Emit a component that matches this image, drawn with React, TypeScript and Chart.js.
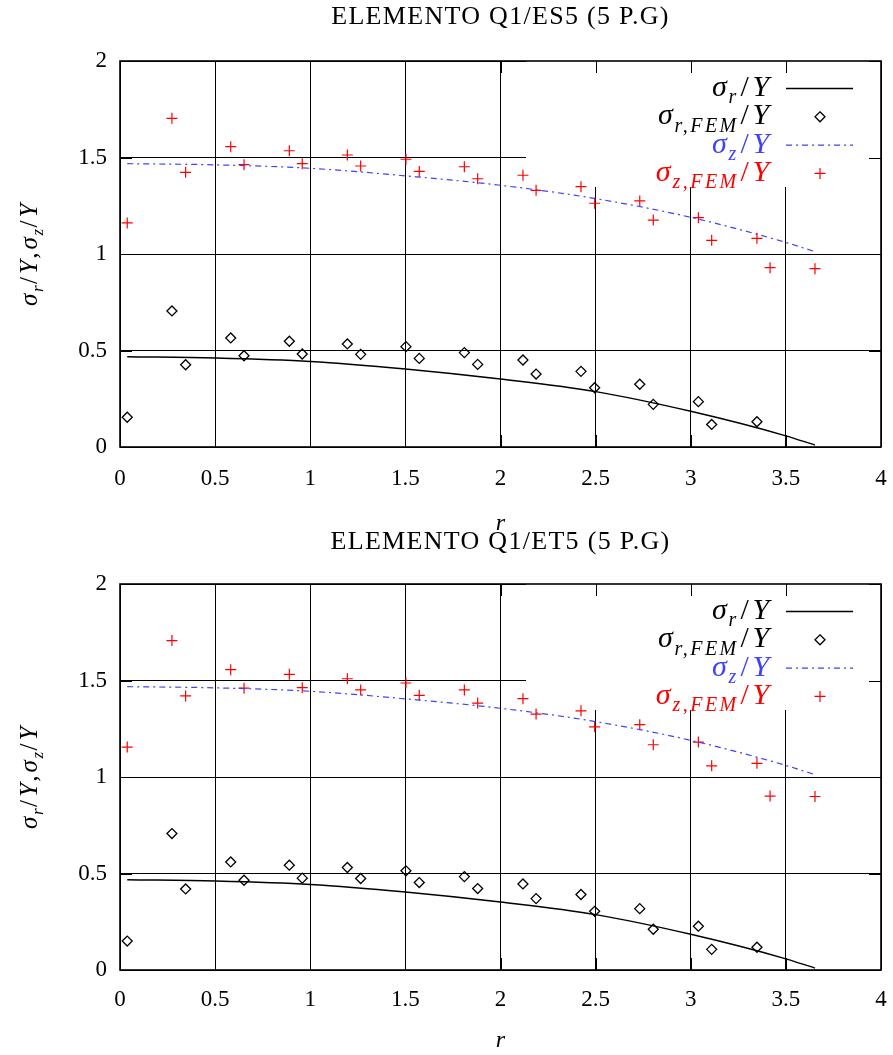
import React, { useEffect, useRef } from 'react';
import { Chart, registerables } from 'chart.js';

Chart.register(...registerables);

const FONT = "'Liberation Serif', 'Times New Roman', serif";

const X_TICKS = [0, 0.5, 1, 1.5, 2, 2.5, 3, 3.5, 4];
const Y_TICKS = [0, 0.5, 1, 1.5, 2];

const R_AN = [0.038, 0.5, 1.0, 1.5, 2.0, 2.5, 3.0, 3.5, 3.653];
const SR_AN = [0.468, 0.461, 0.443, 0.404, 0.352, 0.287, 0.185, 0.058, 0.01];
const SZ_AN = [1.468, 1.462, 1.444, 1.405, 1.356, 1.287, 1.19, 1.06, 1.012];

const R_FEM = [
  0.038, 0.273, 0.345, 0.582, 0.652, 0.89, 0.958, 1.195, 1.265, 1.503, 1.573, 1.81,
  1.88, 2.118, 2.187, 2.423, 2.495, 2.732, 2.803, 3.04, 3.11, 3.348, 3.417, 3.653,
];

const TOP_SR_FEM = [
  0.154, 0.705, 0.426, 0.565, 0.473, 0.548, 0.482, 0.534, 0.48, 0.52, 0.459, 0.489,
  0.428, 0.451, 0.378, 0.392, 0.307, 0.325, 0.221, 0.235, 0.117, 0.131,
];
const TOP_SZ_FEM = [
  1.161, 1.703, 1.423, 1.556, 1.463, 1.535, 1.468, 1.513, 1.456, 1.491, 1.428, 1.452,
  1.39, 1.408, 1.33, 1.349, 1.263, 1.275, 1.176, 1.188, 1.071, 1.081, 0.929, 0.924,
];
const BOT_SR_FEM = [
  0.15, 0.707, 0.42, 0.56, 0.465, 0.543, 0.476, 0.531, 0.474, 0.514, 0.453, 0.484,
  0.422, 0.446, 0.37, 0.391, 0.304, 0.318, 0.211, 0.227, 0.107, 0.118,
];
const BOT_SZ_FEM = [
  1.155, 1.707, 1.42, 1.556, 1.46, 1.532, 1.463, 1.509, 1.451, 1.487, 1.423, 1.451,
  1.383, 1.406, 1.326, 1.343, 1.26, 1.271, 1.167, 1.181, 1.058, 1.071, 0.901, 0.899,
];

const TITLES = ['ELEMENTO Q1/ES5 (5 P.G)', 'ELEMENTO Q1/ET5 (5 P.G)'];
const X_TITLE = 'r';

// segment kinds: 0 italic main, 1 italic subscript, 2 upright main
type Seg = [string, number];
const Y_LABEL: Seg[] = [
  ['σ', 0], ['r', 1], ['/', 2], ['Y', 0], [',', 2], ['σ', 0], ['z', 1], ['/', 2], ['Y', 0],
];
const LEGEND_LABELS: Seg[][] = [
  [['σ', 0], ['r', 1], ['/', 2], ['Y', 0]],
  [['σ', 0], ['r,FEM', 1], ['/', 2], ['Y', 0]],
  [['σ', 0], ['z', 1], ['/', 2], ['Y', 0]],
  [['σ', 0], ['z,FEM', 1], ['/', 2], ['Y', 0]],
];

const BLACK = '#000000';
const BLUE = '#4040ff';
const RED = '#ff0000';
const LEGEND_COLORS = [BLACK, BLACK, BLUE, RED];
const LEGEND_KINDS = ['line', 'diamond', 'dashdot', 'plus'];

function segFont(k: number, main: number, sub: number) {
  const size = k === 1 ? sub : main;
  const style = k === 0 || k === 1 ? 'italic ' : '';
  return `${style}${size}px ${FONT}`;
}

function segGap(k: number, main: number) {
  return k === 2 ? main * 0.12 : main * 0.06;
}

function segsWidth(ctx: CanvasRenderingContext2D, segs: Seg[], main: number, sub: number, sp: number) {
  let w = 0;
  for (const [t, k] of segs) {
    ctx.font = segFont(k, main, sub);
    (ctx as any).letterSpacing = k === 1 ? `${sp}px` : '0px';
    w += ctx.measureText(t).width + segGap(k, main);
  }
  (ctx as any).letterSpacing = '0px';
  return w;
}

function drawSegs(
  ctx: CanvasRenderingContext2D,
  segs: Seg[],
  x: number,
  baseline: number,
  main: number,
  sub: number,
  sp: number,
  color: string
) {
  ctx.fillStyle = color;
  ctx.textAlign = 'left';
  ctx.textBaseline = 'alphabetic';
  let cx = x;
  for (const [t, k] of segs) {
    ctx.font = segFont(k, main, sub);
    (ctx as any).letterSpacing = k === 1 ? `${sp}px` : '0px';
    const dy = k === 1 ? main * 0.24 : 0;
    ctx.fillText(t, cx, baseline + dy);
    cx += ctx.measureText(t).width + segGap(k, main);
  }
  (ctx as any).letterSpacing = '0px';
}

const framePlugin = {
  id: 'gnuframe',
  beforeDatasetsDraw(chart: any, _args: any, opts: any) {
    const { ctx, chartArea: a, scales } = chart;
    const xs = scales.x;
    const ys = scales.y;
    ctx.save();
    // title centred over the plot
    ctx.fillStyle = BLACK;
    ctx.font = `26px ${FONT}`;
    (ctx as any).letterSpacing = '1.3px';
    ctx.textAlign = 'center';
    ctx.textBaseline = 'middle';
    ctx.fillText(opts.title, (a.left + a.right) / 2, opts.titleY);
    (ctx as any).letterSpacing = '0px';
    // legend box (opaque)
    ctx.fillStyle = '#ffffff';
    ctx.fillRect(a.right - 355, a.top, 355, 126);
    // inward ticks
    ctx.strokeStyle = BLACK;
    ctx.lineWidth = 1;
    ctx.beginPath();
    for (const v of X_TICKS) {
      const px = Math.round(xs.getPixelForValue(v)) + 0.5;
      ctx.moveTo(px, a.bottom);
      ctx.lineTo(px, a.bottom - 12);
      ctx.moveTo(px, a.top);
      ctx.lineTo(px, a.top + 12);
    }
    for (const v of Y_TICKS) {
      const py = Math.round(ys.getPixelForValue(v)) + 0.5;
      ctx.moveTo(a.left, py);
      ctx.lineTo(a.left + 12, py);
      ctx.moveTo(a.right, py);
      ctx.lineTo(a.right - 12, py);
    }
    ctx.stroke();
    // frame
    ctx.lineWidth = 1.6;
    ctx.strokeRect(a.left, a.top, a.right - a.left, a.bottom - a.top);
    // y axis label
    ctx.save();
    const mid = (a.top + a.bottom) / 2;
    ctx.translate(29, mid);
    ctx.rotate(-Math.PI / 2);
    const w = segsWidth(ctx, Y_LABEL, 25, 17, 0);
    drawSegs(ctx, Y_LABEL, -w / 2, 8, 25, 17, 0, BLACK);
    ctx.restore();
    ctx.restore();
  },
  afterDatasetsDraw(chart: any) {
    const { ctx, chartArea: a } = chart;
    ctx.save();
    const textRight = a.right - 110;
    const sx0 = a.right - 95;
    const sx1 = a.right - 28;
    const mx = a.right - 61;
    for (let i = 0; i < LEGEND_LABELS.length; i++) {
      const base = a.top + 35 + i * 28.3;
      const cy = base - 7.5;
      const segs = LEGEND_LABELS[i];
      const w = segsWidth(ctx, segs, 30, 20, 2.5);
      drawSegs(ctx, segs, textRight - w, base, 30, 20, 2.5, LEGEND_COLORS[i]);
      const kind = LEGEND_KINDS[i];
      ctx.strokeStyle = LEGEND_COLORS[i];
      ctx.setLineDash([]);
      if (kind === 'line') {
        ctx.lineWidth = 1.3;
        ctx.beginPath();
        ctx.moveTo(sx0, cy);
        ctx.lineTo(sx1, cy);
        ctx.stroke();
      } else if (kind === 'dashdot') {
        ctx.lineWidth = 1.2;
        ctx.setLineDash([6, 4, 2, 4]);
        ctx.beginPath();
        ctx.moveTo(sx0, cy);
        ctx.lineTo(sx1, cy);
        ctx.stroke();
        ctx.setLineDash([]);
      } else if (kind === 'diamond') {
        ctx.lineWidth = 1.3;
        const r = 5;
        ctx.beginPath();
        ctx.moveTo(mx, cy - r);
        ctx.lineTo(mx + r, cy);
        ctx.lineTo(mx, cy + r);
        ctx.lineTo(mx - r, cy);
        ctx.closePath();
        ctx.stroke();
      } else {
        ctx.lineWidth = 1.2;
        const r = 5.5;
        ctx.beginPath();
        ctx.moveTo(mx - r, cy);
        ctx.lineTo(mx + r, cy);
        ctx.moveTo(mx, cy - r);
        ctx.lineTo(mx, cy + r);
        ctx.stroke();
      }
    }
    ctx.restore();
  },
};

function pts(xs: number[], ys: number[]) {
  return ys.map((y, i) => ({ x: xs[i], y }));
}

function makeConfig(
  title: string,
  srFem: number[],
  szFem: number[],
  titleY: number,
  plotTop: number,
  xAxisHeight: number,
  tickPad: number,
  xTitlePadBottom: number
): any {
  return {
    type: 'scatter',
    data: {
      datasets: [
        {
          label: 'sr',
          data: pts(R_AN, SR_AN),
          showLine: true,
          borderColor: BLACK,
          borderWidth: 1.4,
          pointRadius: 0,
          cubicInterpolationMode: 'monotone',
          fill: false,
        },
        {
          label: 'srfem',
          data: pts(R_FEM, srFem),
          showLine: false,
          pointStyle: 'rectRot',
          pointRadius: 5,
          borderColor: BLACK,
          backgroundColor: 'rgba(0,0,0,0)',
          borderWidth: 1.3,
        },
        {
          label: 'sz',
          data: pts(R_AN, SZ_AN),
          showLine: true,
          borderColor: BLUE,
          borderWidth: 1.2,
          borderDash: [6, 4, 2, 4],
          pointRadius: 0,
          cubicInterpolationMode: 'monotone',
          fill: false,
        },
        {
          label: 'szfem',
          data: pts(R_FEM, szFem),
          showLine: false,
          pointStyle: 'cross',
          pointRadius: 5.5,
          borderColor: RED,
          backgroundColor: RED,
          borderWidth: 1.2,
        },
      ],
    },
    options: {
      animation: false,
      responsive: false,
      maintainAspectRatio: false,
      layout: { padding: { left: 0, right: 12, top: plotTop, bottom: 0 } },
      plugins: {
        legend: { display: false },
        tooltip: { enabled: false },
        title: { display: false },
        gnuframe: { title, titleY },
      },
      scales: {
        x: {
          type: 'linear',
          min: 0,
          max: 4,
          afterBuildTicks: (s: any) => {
            s.ticks = X_TICKS.map((v) => ({ value: v }));
          },
          afterFit: (s: any) => {
            s.height = xAxisHeight;
            s.paddingLeft = 0;
            s.paddingRight = 0;
          },
          ticks: {
            color: BLACK,
            font: { family: FONT, size: 23 },
            padding: tickPad,
            maxRotation: 0,
            autoSkip: false,
            callback: (v: any) => String(v),
          },
          grid: { color: BLACK, lineWidth: 1, drawTicks: false },
          border: { display: false },
          title: {
            display: true,
            text: X_TITLE,
            color: BLACK,
            font: { family: FONT, size: 24, style: 'italic', lineHeight: 1.2 },
            padding: { top: 0, bottom: xTitlePadBottom },
          },
        },
        y: {
          type: 'linear',
          min: 0,
          max: 2,
          afterBuildTicks: (s: any) => {
            s.ticks = Y_TICKS.map((v) => ({ value: v }));
          },
          afterFit: (s: any) => {
            s.width = 120;
          },
          ticks: {
            color: BLACK,
            font: { family: FONT, size: 23 },
            padding: 13,
            autoSkip: false,
            callback: (v: any) => String(v),
          },
          grid: { color: BLACK, lineWidth: 1, drawTicks: false },
          border: { display: false },
        },
      },
    },
    plugins: [framePlugin],
  };
}

function Panel({ top, height, makeCfg }: { top: number; height: number; makeCfg: () => any }) {
  const ref = useRef<HTMLCanvasElement>(null);
  useEffect(() => {
    const chart = new Chart(ref.current as HTMLCanvasElement, makeCfg());
    return () => chart.destroy();
  }, []);
  return (
    <canvas
      ref={ref}
      width={893}
      height={height}
      style={{ position: 'absolute', left: 0, top, width: 893, height, display: 'block' }}
    />
  );
}

export default function App() {
  return (
    <div style={{ position: 'absolute', left: 0, top: 0, width: 893, height: 1055, background: '#fff' }}>
      <Panel
        top={0}
        height={540}
        makeCfg={() => makeConfig(TITLES[0], TOP_SR_FEM, TOP_SZ_FEM, 17, 61, 93, 18, 2)}
      />
      <Panel
        top={520}
        height={535}
        makeCfg={() => makeConfig(TITLES[1], BOT_SR_FEM, BOT_SZ_FEM, 22, 64, 85, 16, 0)}
      />
    </div>
  );
}
